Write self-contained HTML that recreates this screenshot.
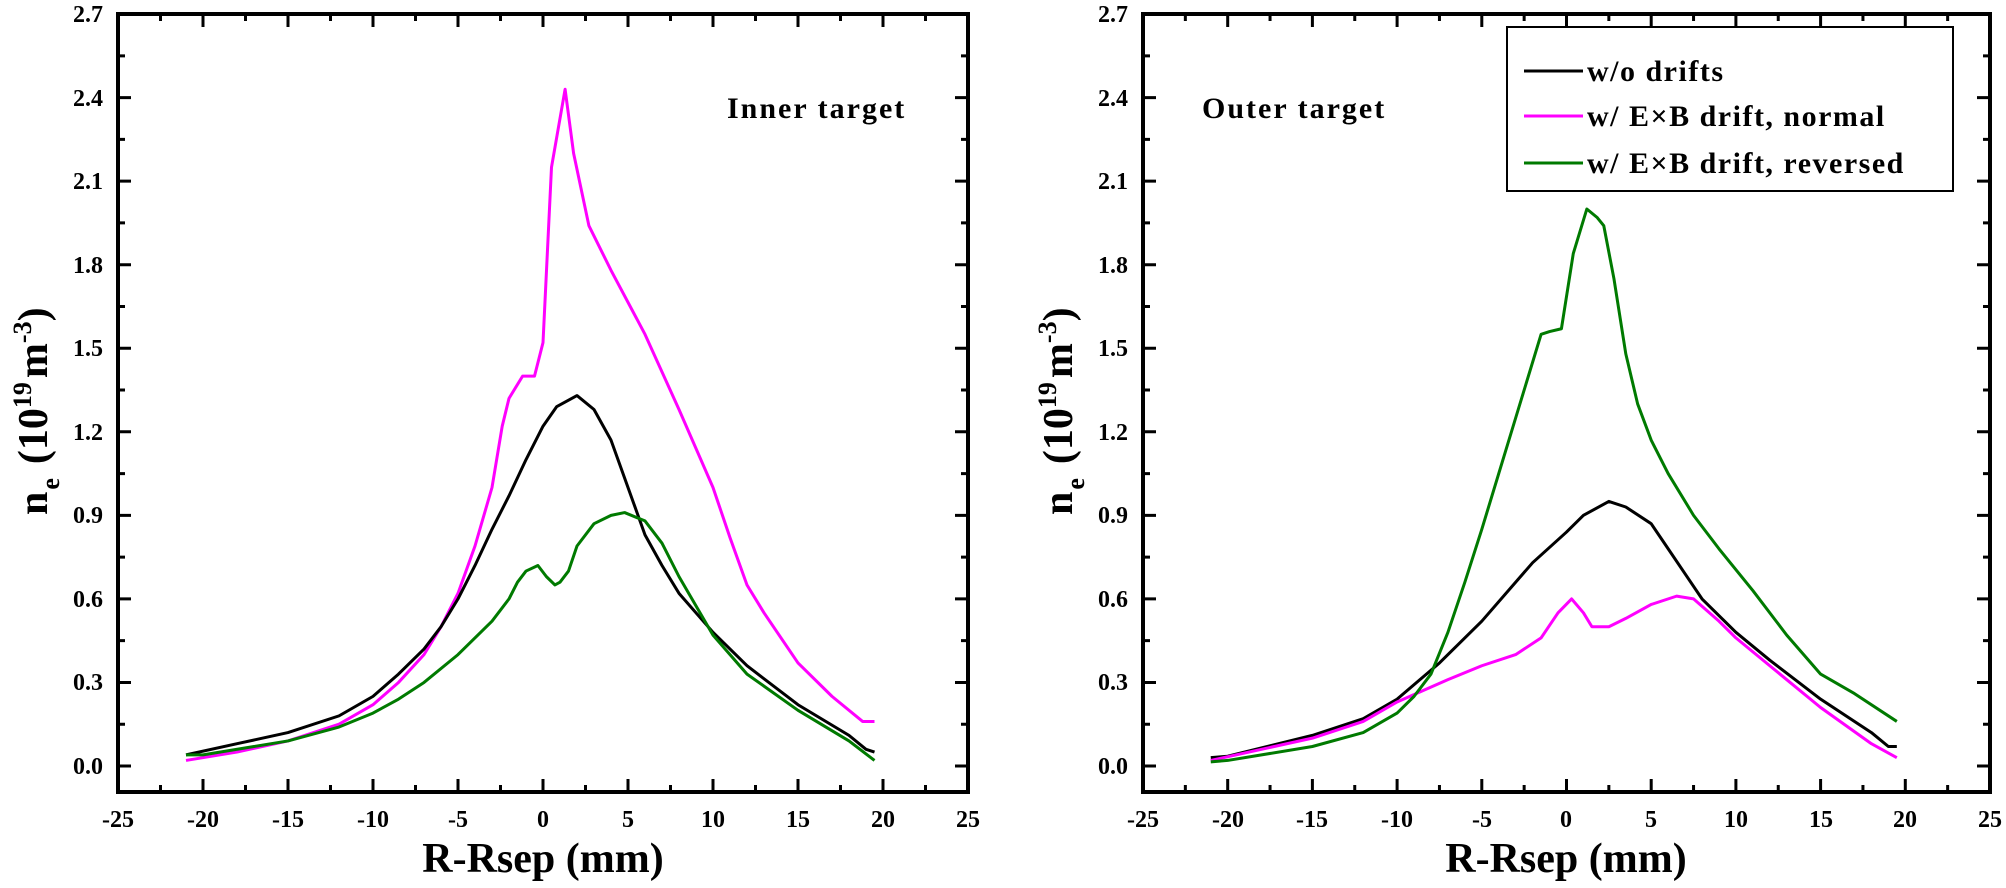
<!DOCTYPE html>
<html><head><meta charset="utf-8"><style>
html,body{margin:0;padding:0;background:#fff;}
svg{display:block;font-family:"Liberation Serif",serif;font-weight:bold;}
</style></head><body>
<svg id="s" width="2006" height="888" viewBox="0 0 2006 888" xmlns="http://www.w3.org/2000/svg">
<rect width="2006" height="888" fill="#fff"/>
<g id="ticks" stroke="#000" stroke-width="3" fill="none"></g>
<rect x="118" y="14" width="850" height="778" fill="none" stroke="#000" stroke-width="4"/>
<rect x="1143" y="14" width="847" height="778" fill="none" stroke="#000" stroke-width="4"/>

<g font-size="24" text-anchor="end">
<text x="103" y="774">0.0</text><text x="103" y="690">0.3</text><text x="103" y="607">0.6</text><text x="103" y="523">0.9</text><text x="103" y="440">1.2</text><text x="103" y="356">1.5</text><text x="103" y="273">1.8</text><text x="103" y="189">2.1</text><text x="103" y="106">2.4</text><text x="103" y="22">2.7</text>
<text x="1128" y="774">0.0</text><text x="1128" y="690">0.3</text><text x="1128" y="607">0.6</text><text x="1128" y="523">0.9</text><text x="1128" y="440">1.2</text><text x="1128" y="356">1.5</text><text x="1128" y="273">1.8</text><text x="1128" y="189">2.1</text><text x="1128" y="106">2.4</text><text x="1128" y="22">2.7</text>
</g>
<g font-size="24" text-anchor="middle">
<text x="118" y="827">-25</text><text x="203" y="827">-20</text><text x="288" y="827">-15</text><text x="373" y="827">-10</text><text x="458" y="827">-5</text><text x="543" y="827">0</text><text x="628" y="827">5</text><text x="713" y="827">10</text><text x="798" y="827">15</text><text x="883" y="827">20</text><text x="968" y="827">25</text>
<text x="1143" y="827">-25</text><text x="1228" y="827">-20</text><text x="1312" y="827">-15</text><text x="1397" y="827">-10</text><text x="1482" y="827">-5</text><text x="1566" y="827">0</text><text x="1651" y="827">5</text><text x="1736" y="827">10</text><text x="1821" y="827">15</text><text x="1905" y="827">20</text><text x="1990" y="827">25</text>
</g>
<g font-size="42" text-anchor="middle">
<text x="543" y="872">R-Rsep (mm)</text>
<text x="1566" y="872">R-Rsep (mm)</text>
</g>
<g font-size="42">
<text transform="translate(47,515) rotate(-90)">n<tspan font-size="26" dy="12" dx="2">e</tspan><tspan dy="-12" dx="14">(10</tspan><tspan font-size="26" dy="-16">19</tspan><tspan dy="16" dx="4">m</tspan><tspan font-size="26" dy="-16">-3</tspan><tspan dy="16">)</tspan></text>
<text transform="translate(1072,515) rotate(-90)">n<tspan font-size="26" dy="12" dx="2">e</tspan><tspan dy="-12" dx="14">(10</tspan><tspan font-size="26" dy="-16">19</tspan><tspan dy="16" dx="4">m</tspan><tspan font-size="26" dy="-16">-3</tspan><tspan dy="16">)</tspan></text>
</g>
<g font-size="30" letter-spacing="2">
<text x="727" y="118">Inner target</text>
<text x="1202" y="118">Outer target</text>
</g>

<g fill="none" stroke-width="3" stroke-linejoin="round">
<g transform="translate(543,766) scale(17,-278.5)">
<polyline vector-effect="non-scaling-stroke" stroke="#ff00ff" points="-21,0.02 -18,0.05 -15,0.09 -12,0.15 -10,0.22 -8.5,0.3 -7,0.40 -6,0.5 -5,0.62 -4,0.79 -3,1.0 -2.4,1.22 -2,1.32 -1.2,1.40 -0.5,1.40 0,1.52 0.5,2.15 1.3,2.43 1.8,2.2 2.7,1.94 4,1.78 6,1.55 8,1.28 10,1.0 11,0.82 12,0.65 13,0.55 15,0.37 17,0.25 18.8,0.16 19.5,0.16"/>
<polyline vector-effect="non-scaling-stroke" stroke="#000" points="-21,0.04 -18,0.08 -15,0.12 -12,0.18 -10,0.25 -8.5,0.33 -7,0.42 -6,0.5 -5,0.6 -4,0.72 -3,0.85 -2,0.97 -1,1.1 0,1.22 0.8,1.29 2,1.33 3,1.28 4,1.17 5,1.0 6,0.83 7,0.72 8,0.62 10,0.48 12,0.36 15,0.22 18,0.11 19,0.06 19.5,0.05"/>
<polyline vector-effect="non-scaling-stroke" stroke="#007a00" points="-21,0.04 -20,0.04 -17,0.07 -15,0.09 -12,0.14 -10,0.19 -8.5,0.24 -7,0.30 -5,0.40 -3,0.52 -2,0.60 -1.5,0.66 -1,0.70 -0.3,0.72 0.2,0.68 0.7,0.65 1,0.66 1.5,0.70 2,0.79 3,0.87 4,0.90 4.8,0.91 6,0.88 7,0.80 8,0.68 10,0.47 12,0.33 15,0.20 18,0.09 19.5,0.02"/>
</g>
<g transform="translate(1566.5,766) scale(16.94,-278.5)">
<polyline vector-effect="non-scaling-stroke" stroke="#000" points="-21,0.03 -20,0.035 -15,0.11 -12,0.17 -10,0.24 -7.5,0.37 -5,0.52 -2,0.73 0,0.84 1,0.9 2.5,0.95 3.5,0.93 5,0.87 6,0.78 7,0.69 8,0.6 10,0.48 12,0.38 15,0.24 18,0.12 19,0.07 19.5,0.07"/>
<polyline vector-effect="non-scaling-stroke" stroke="#ff00ff" points="-21,0.02 -15,0.1 -12,0.16 -10,0.23 -7,0.31 -5,0.36 -3,0.40 -1.5,0.46 -0.5,0.55 0.3,0.60 1,0.55 1.5,0.50 2.5,0.50 3.5,0.53 5,0.58 6.5,0.61 7.5,0.60 9,0.52 10,0.46 12,0.36 15,0.21 18,0.08 19.5,0.03"/>
<polyline vector-effect="non-scaling-stroke" stroke="#007a00" points="-21,0.015 -20,0.02 -15,0.07 -12,0.12 -10,0.19 -9,0.25 -8,0.33 -7,0.48 -6,0.66 -5,0.85 -4,1.05 -3,1.25 -2,1.45 -1.5,1.55 -1,1.56 -0.3,1.57 0.4,1.84 1.2,2.0 1.8,1.97 2.2,1.94 2.8,1.75 3.5,1.48 4.2,1.3 5,1.17 6,1.05 7.5,0.90 9,0.78 11,0.63 13,0.47 15,0.33 17,0.26 19.5,0.16"/>
</g>
</g>

<rect x="1507" y="27" width="446" height="164" fill="#fff" stroke="#000" stroke-width="2"/>
<g stroke-width="3">
<line x1="1524" y1="71" x2="1583" y2="71" stroke="#000"/>
<line x1="1524" y1="116" x2="1583" y2="116" stroke="#ff00ff"/>
<line x1="1524" y1="163" x2="1583" y2="163" stroke="#007a00"/>
</g>
<g font-size="30" letter-spacing="1.5">
<text x="1587" y="81">w/o drifts</text>
<text x="1587" y="126">w/ E×B drift, normal</text>
<text x="1587" y="173">w/ E×B drift, reversed</text>
</g>
</svg>
<script>
(function(){
var g=document.getElementById('ticks'),d='';
function ax(x0,x1){
 var sx=(x1-x0)/50;
 for(var i=0;i<=20;i++){var x=x0+i*2.5*sx,L=(i%2==0)?13:7;
  d+='M'+x+' 792v-'+L+'M'+x+' 14v'+L;}
 for(var j=0;j<=18;j++){var y=766-j*0.15*278.5,L=(j%2==0)?13:7;
  d+='M'+x0+' '+y+'h'+L+'M'+x1+' '+y+'h-'+L;}
}
ax(118,968);ax(1143,1990);
var p=document.createElementNS('http://www.w3.org/2000/svg','path');p.setAttribute('d',d);g.appendChild(p);
})();
</script>
</body></html>
